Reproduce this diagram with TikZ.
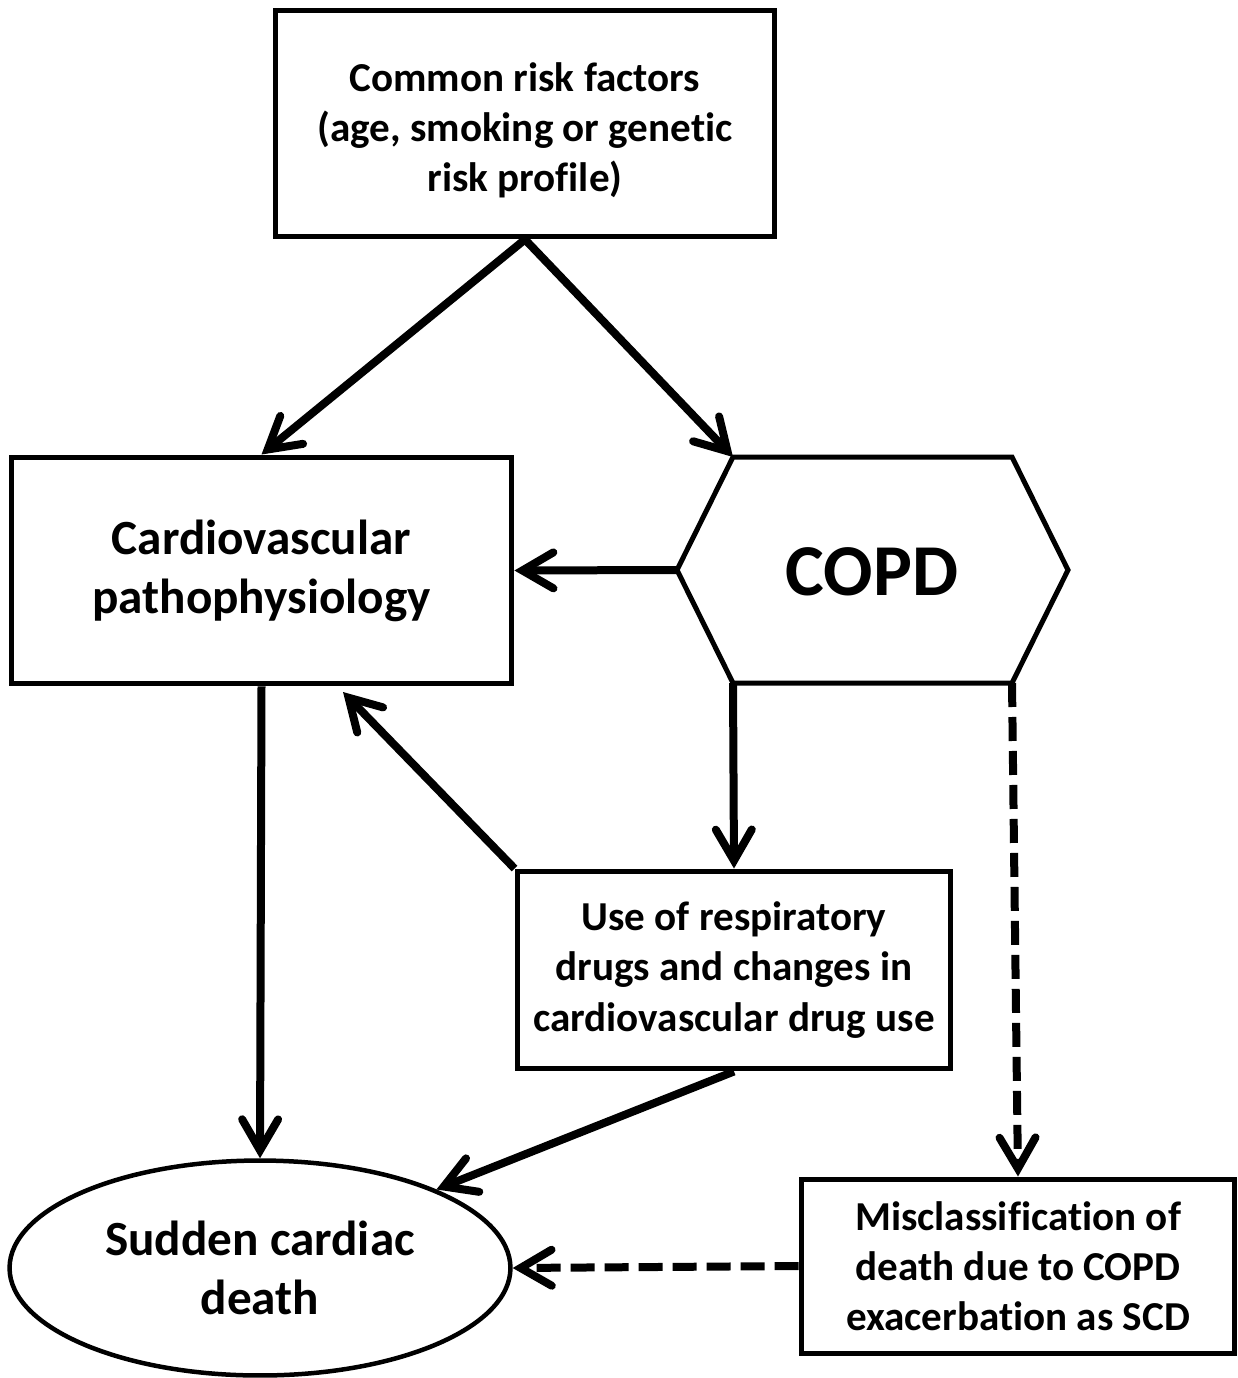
\documentclass[tikz,border=0pt]{standalone}
\usepackage{fontspec}
\setmainfont{Carlito}[Ligatures=NoCommon]
\usetikzlibrary{arrows.meta,positioning,shapes.geometric}
\tikzset{
>={Straight Barb[length=0.62cm,width=0.72cm,line cap=round]},
  box/.style={
    rectangle,
    draw=black, line width=0.1cm,
    align=center,
    inner sep=0pt},
  oval/.style={
    ellipse,
    draw=black, line width=0.09cm,
    align=center,
    inner sep=0pt},
  line/.style={draw, line width=0.16cm, ->},
  dashed line/.style={line, dash pattern=on 0.48cm off 0.2cm},
  small text/.style={font=\bfseries\fontsize{23.4}{28.5}\selectfont},
  big text/.style={font=\bfseries\fontsize{28}{33.5}\selectfont},
}

\begin{document}
\begin{tikzpicture}[x=0.02cm, y=-0.02cm]
    \useasboundingbox (0,0) rectangle (1237,1378);

    %boxes
    \node[box, small text, minimum width=10cm, minimum height=4.54cm] (risk) at (525,123.5)
        {\rule{0pt}{0.85cm}Common risk factors\\(age, smoking or genetic\\risk profile)};
    \node[box, big text, minimum width=10.02cm, minimum height=4.54cm] (cardio) at (261.5,570.5)
        {Cardiovascular\\pathophysiology};
    \node[box, small text, minimum width=8.68cm, minimum height=3.96cm] (drugs) at (734,970)
        {Use of respiratory\\drugs and changes in\\cardiovascular drug use};
    \node[box, small text, minimum width=8.68cm, minimum height=3.48cm] (miscl) at (1018,1266)
        {Misclassification of\\death due to COPD\\exacerbation as SCD};
    \node[oval, big text, minimum width=10.02cm, minimum height=4.3cm] (sudden) at (260,1268)
        {Sudden cardiac\\death};

    %hexagon
    \coordinate (copdNW) at (733,457);
    \coordinate (copdNE) at (1012,457);
    \coordinate (copdE) at (1068,570);
    \coordinate (copdSE) at (1012,683);
    \coordinate (copdSW) at (733,683);
    \coordinate (copdW) at (677,570);
    \draw[line width=0.1cm] (copdNW) -- (copdNE) -- (copdE) -- (copdSE)
        -- (copdSW) -- (copdW) -- cycle;
    \node[font=\bfseries\fontsize{41.6}{48}\selectfont] (copd) at (872,572) {COPD};

    %arrows
    \coordinate (cardioin) at (343,692);
    \draw[line] (risk.south) -- (cardio.north);
    \draw[line] (risk.south) -- (copdNW);
    \draw[line] (copdW) -- (cardio.east);
    \draw[line] (copdSW) -- (drugs.north);
    \draw[line] (cardio.south) -- (sudden.north);
    \draw[line] (drugs.north west) -- (cardioin);
    \draw[line] (drugs.south) -- (sudden.24);
    \draw[dashed line] (copdSE) -- (miscl.north);
    \draw[dashed line] (miscl.west) -- (sudden.east);

\end{tikzpicture}
\end{document}
